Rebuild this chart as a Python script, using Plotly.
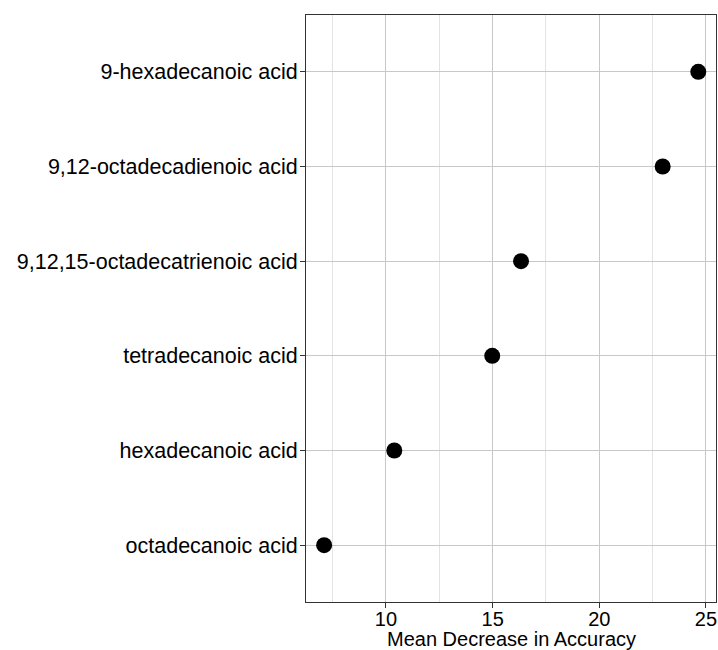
import plotly.graph_objects as go

compounds = [
    "octadecanoic acid",
    "hexadecanoic acid",
    "tetradecanoic acid",
    "9,12,15-octadecatrienoic acid",
    "9,12-octadecadienoic acid",
    "9-hexadecanoic acid",
]
mda = [7.10, 10.39, 14.98, 16.33, 22.97, 24.64]
x_ticks = [10, 15, 20, 25]
x_title = "Mean Decrease in Accuracy"

fig = go.Figure()
fig.add_trace(go.Scatter(
    x=mda, y=compounds, mode="markers",
    marker=dict(color="black", size=16),
    showlegend=False,
))

plot_h = 650 - 15 - 48
fig.update_layout(
    width=718, height=650,
    margin=dict(l=306, r=2, t=15, b=48),
    plot_bgcolor="white", paper_bgcolor="white",
    font=dict(family="Liberation Sans, Arial, sans-serif", color="black"),
    annotations=[dict(
        text=x_title, xref="paper", yref="paper",
        x=0.5, y=-(639 - 602) / plot_h, xanchor="center", yanchor="middle",
        showarrow=False, font=dict(size=20, color="black"),
    )],
)
fig.update_xaxes(
    range=[6.25, 25.47],
    tickvals=x_ticks,
    ticks="outside", ticklen=5, tickcolor="#333333", tickwidth=1,
    tickfont=dict(size=20, color="black"),
    ticklabelstandoff=-6,
    showgrid=True, gridcolor="#c8c8c8", gridwidth=1,
    minor=dict(tickvals=[7.5, 12.5, 17.5, 22.5], showgrid=True, gridcolor="#e3e3e3", gridwidth=1, ticks=""),
    showline=True, linecolor="#333333", linewidth=1, mirror=True,
    zeroline=False,
    automargin=False,
)
fig.update_yaxes(
    type="category",
    categoryorder="array", categoryarray=compounds,
    range=[-0.6, 5.6],
    ticks="outside", ticklen=5, tickcolor="#333333", tickwidth=1,
    tickfont=dict(size=21.5, color="black"),
    ticklabelstandoff=-2,
    showgrid=True, gridcolor="#c8c8c8", gridwidth=1,
    showline=True, linecolor="#333333", linewidth=1, mirror=True,
    zeroline=False,
    automargin=False,
)

fig.write_html("out.html")
